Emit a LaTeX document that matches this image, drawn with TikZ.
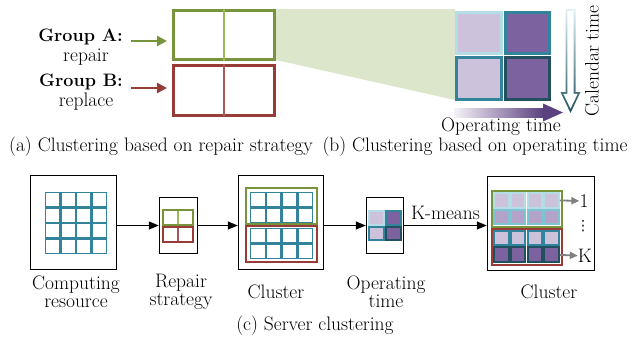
\documentclass[tikz,border=0pt]{standalone}
\usepackage{fontspec}
\usepackage{xcolor}
\usepackage{tikz}
\usetikzlibrary{arrows.meta,positioning}

\setmainfont{Latin Modern Roman}
\newfontfamily\dotsfont{DejaVu Sans}

\definecolor{grpgreen}{HTML}{77933C}
\definecolor{grplight}{HTML}{9BBB59}
\definecolor{grpred}{HTML}{993B36}
\definecolor{fangreen}{HTML}{DCE6CA}
\definecolor{cteal}{HTML}{31849B}
\definecolor{cdteal}{HTML}{22505F}
\definecolor{cmteal}{HTML}{7EC3D2}
\definecolor{cblue}{HTML}{B5DDE7}
\definecolor{lpurp}{HTML}{CCC2DB}
\definecolor{mpurp}{HTML}{B4A3C8}
\definecolor{dpurp}{HTML}{7D62A0}
\definecolor{tpurp}{HTML}{5C4180}

\begin{document}
\begin{tikzpicture}[x=1pt, y=-1pt,
  every node/.style={font=\fontsize{19.5}{18}\selectfont, inner sep=0pt},
  frame/.style={draw=black, line width=1.5pt},
  flow/.style={-{Triangle[length=10pt,width=8pt]}, line width=1.3pt},
  grid cell/.style={draw=cteal, line width=1.3pt},
  side/.style={-{Triangle[length=10pt,width=10pt]}, line width=2.6pt}]
  \useasboundingbox (0,0) rectangle (632,341);

  % zoom fan behind the matrix
  \fill[fangreen] (276,9) -- (455,9) -- (455,100) -- (276,60) -- cycle;

  % (a) groups by repair strategy
  \node[draw=grpgreen, line width=3pt, minimum width=101pt, minimum height=49pt] (rectA) at (224,35) {};
  \node[draw=grpred, line width=3pt, minimum width=101pt, minimum height=50pt] (rectB) at (224,90.5) {};
  \draw[grplight, line width=1.5pt] (rectA.north) -- (rectA.south);
  \draw[grpred!85!white, line width=1.5pt] (rectB.north) -- (rectB.south);

  \node[anchor=east, font=\fontsize{18}{18}\selectfont\bfseries] (labA) at (123,36.5) {Group A:};
  \node (subA) at (86,57) {repair};
  \node[anchor=east, font=\fontsize{18}{18}\selectfont\bfseries] (labB) at (123,81.5) {Group B:};
  \node (subB) at (86,101.5) {replace};
  \draw[side, grpgreen, shorten <=8pt, shorten >=5pt] ([yshift=-4.5pt]labA.east) -- ([yshift=-4.5pt]labA.east -| rectA.west);
  \draw[side, grpred, shorten <=8pt, shorten >=5pt] ([yshift=-6.5pt]labB.east) -- ([yshift=-6.5pt]labB.east -| rectB.west);

  % (b) operating time matrix
  \draw[fill=lpurp, draw=cblue, line width=3pt] (456.5,12.5) rectangle (501.5,53.5);
  \draw[fill=dpurp, draw=cteal, line width=3pt] (505.5,12.5) rectangle (549.5,53.5);
  \draw[fill=lpurp, draw=cteal, line width=3pt] (456.5,57.5) rectangle (501.5,99.5);
  \draw[fill=dpurp, draw=cdteal, line width=3pt] (505.5,57.5) rectangle (549.5,99.5);

  % calendar time: hollow arrow
  \shade[top color=cblue!40!white, bottom color=cdteal]
    (565.5,9) -- (575.5,9) -- (575.5,92) -- (580.5,92) -- (570.5,113) -- (560.5,92) -- (565.5,92) -- cycle;
  \fill[white]
    (567.3,10.8) -- (573.7,10.8) -- (573.7,93.8) -- (577.6,93.8) -- (570.5,108.7) -- (563.4,93.8) -- (567.3,93.8) -- cycle;
  \node[rotate=90] (cal) at (592,61) {Calendar time};

  % operating time: shaded arrow
  \shade[left color=lpurp!20!white, right color=tpurp] (454,108) rectangle (543,117);
  \fill[tpurp] (543,103.5) -- (563,112.5) -- (543,121.5) -- cycle;
  \node (opt) at (501,127) {Operating time};

  \node (capA) at (161,147) {(a) Clustering based on repair strategy};
  \node (capB) at (475,147) {(b) Clustering based on operating time};

  % (c) server clustering pipeline
  \node[frame, minimum width=86pt, minimum height=94pt] (comp) at (73.5,222.5) {};
  \node[frame, minimum width=38pt, minimum height=56pt] (rep) at (178.5,225.5) {};
  \node[frame, minimum width=85pt, minimum height=94pt] (clu) at (281,222.5) {};
  \node[frame, minimum width=37pt, minimum height=56pt] (opbox) at (385,225.5) {};
  \node[frame, minimum width=107pt, minimum height=94pt] (fin) at (541,223.5) {};

  \draw[flow] (rep.west -| comp.east) -- (rep.west);
  \draw[flow] (rep.east) -- (rep.east -| clu.west);
  \draw[flow] (opbox.west -| clu.east) -- (opbox.west);
  \draw[flow] (opbox.east) -- (opbox.east -| fin.west) node[midway, above=5pt] (km) {K-means};

  % computing resource grid
  \foreach \i in {0,...,3}
    \foreach \j in {0,...,3}
      \draw[grid cell] ({45.6+15.5*\i},{192.6+15.5*\j}) rectangle ++(14.3,14.3);

  % repair strategy groups
  \draw[grplight, line width=1.5pt] (178,210) -- (178,225);
  \draw[grpred!85!white, line width=1.5pt] (178,226) -- (178,241);
  \draw[grpgreen, line width=2pt] (163,210) rectangle (193,225);
  \draw[grpred, line width=2pt] (163,226.5) rectangle (193,241.5);

  % grouped cluster
  \foreach \i in {0,...,3}
    \foreach \j in {0,1} {
      \draw[grid cell] ({250.6+15.75*\i},{192.6+15.5*\j}) rectangle ++(14.55,14.3);
      \draw[grid cell] ({250.6+15.75*\i},{228.6+15.5*\j}) rectangle ++(14.55,14.3);
    }
  \draw[grpgreen, line width=2.5pt] (246,188) rectangle (317,224);
  \draw[grpred, line width=2.5pt] (246,226) rectangle (317,262);

  % operating time thumbnail
  \draw[fill=lpurp, draw=cblue, line width=2pt] (369,211) rectangle (384,225);
  \draw[fill=dpurp, draw=cteal, line width=2pt] (386,211) rectangle (401,225);
  \draw[fill=lpurp, draw=cteal, line width=2pt] (369,227) rectangle (384,240);
  \draw[fill=dpurp, draw=cdteal, line width=2pt] (386,227) rectangle (401,240);

  % k-means result rows
  \foreach \i in {1,...,4} {
    \node[draw=cblue, fill=lpurp, line width=2pt, minimum width=14.5pt, minimum height=14.5pt] (f-1-\i) at ({484.6+16.75*\i},200.25) {};
    \node[draw=cmteal, fill=mpurp, line width=2pt, minimum width=14.5pt, minimum height=14.5pt] (f-2-\i) at ({484.6+16.75*\i},216.75) {};
    \node[draw=cteal, fill=lpurp, line width=2pt, minimum width=14.5pt, minimum height=14.5pt] (f-3-\i) at ({484.6+16.75*\i},238) {};
    \node[draw=cdteal, fill=dpurp, line width=2pt, minimum width=14.5pt, minimum height=14.5pt] (f-4-\i) at ({484.6+16.75*\i},254.5) {};
  }
  \draw[grpgreen, line width=2.5pt] (492,191) rectangle (562,227);
  \draw[grpred, line width=2.5pt] (492,229) rectangle (562,265);

  \node (one) at (584,201) {1};
  \node[font=\fontsize{14}{14}\dotsfont] (vdots) at (583,226) {⋮};
  \node (kay) at (585,256) {K};
  \draw[-{Triangle[length=8pt,width=7pt]}, gray, line width=1.8pt] (f-1-4) -- (one);
  \draw[-{Triangle[length=8pt,width=7pt]}, gray, line width=1.8pt] (f-4-4) -- (kay);

  % labels
  \node[align=center] (tcomp) at (76,292) {Computing\\resource};
  \node[align=center] (trep) at (181,292) {Repair\\strategy};
  \node (tclu) at (276,292) {Cluster};
  \node[align=center] (topt) at (386,292) {Operating\\time};
  \node (tfin) at (549,292) {Cluster};
  \node (capC) at (315,326) {(c) Server clustering};
\end{tikzpicture}
\end{document}
